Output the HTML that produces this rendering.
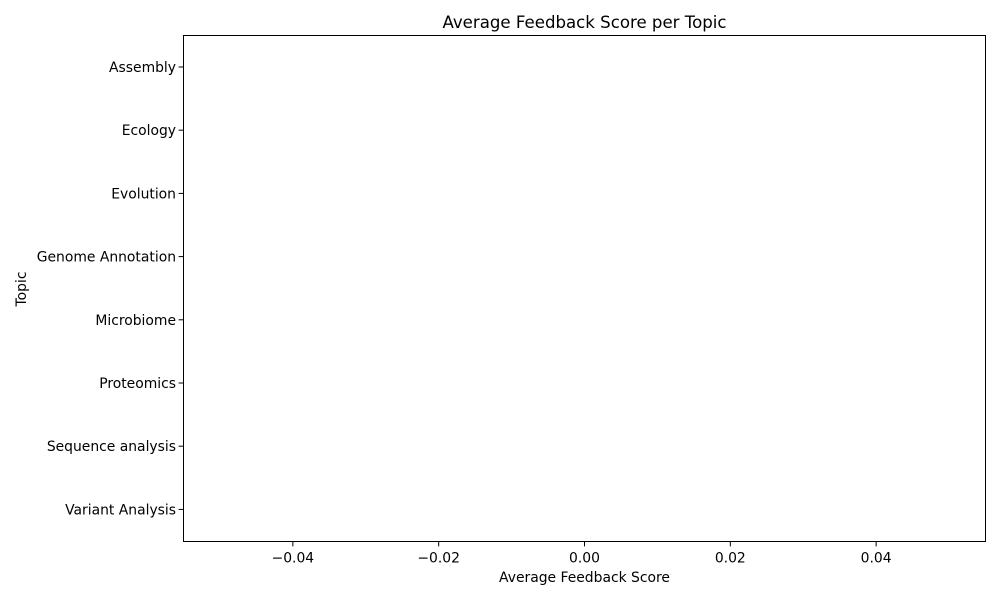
<!DOCTYPE html>
<html><head><meta charset="utf-8"><style>
html,body{margin:0;padding:0;background:#fff;}
svg{display:block;font-family:"DejaVu Sans","Liberation Sans",sans-serif;}
</style></head><body>
<svg id="chart" width="1000" height="600" viewBox="0 0 1000 600">
<text x="584.5" y="28" font-size="16.6" text-anchor="middle">Average Feedback Score per Topic</text>
<text x="584.5" y="582" font-size="13.9" text-anchor="middle">Average Feedback Score</text>
<text transform="translate(26,289) rotate(-90)" font-size="13.9" text-anchor="middle">Topic</text>
<g id="marks"></g>
<g id="xticks"></g>
<g id="yticks"></g>
<rect x="183.5" y="35.5" width="802" height="506" fill="none" stroke="#000" stroke-width="1"/>
</svg>
<script>
const categories = ["Assembly","Ecology","Evolution","Genome Annotation","Microbiome","Proteomics","Sequence analysis","Variant Analysis"];
const scores = [0,0,0,0,0,0,0,0];
const xTicks = [-0.04,-0.02,0,0.02,0.04];
const xTickLabels = ["\u22120.04","\u22120.02","0.00","0.02","0.04"];

const L=183.5,R=985.5,T=35.5,B=541.5;
const xMin=-0.055,xMax=0.055;
const x=v=>L+(v-xMin)/(xMax-xMin)*(R-L);
const y=i=>67+i*63.2;
const ns="http://www.w3.org/2000/svg";
const mk=(t,a)=>{const e=document.createElementNS(ns,t);for(const k in a)e.setAttribute(k,a[k]);return e;};

const marks=document.getElementById('marks');
categories.forEach((c,i)=>{
  const x0=x(Math.min(0,scores[i])),x1=x(Math.max(0,scores[i]));
  const r=mk('rect',{x:x0,y:y(i)-25,width:x1-x0,height:50,fill:'#1f77b4'});
  
  
  marks.appendChild(r);
});

const xt=document.getElementById('xticks');
xTicks.forEach((v,i)=>{
  const g=mk('g',{});
  
  
  g.appendChild(mk('line',{x1:x(v),x2:x(v),y1:B,y2:B+4.9,stroke:'#000'}));
  const t=mk('text',{x:x(v),y:B+21,'font-size':'13.9','text-anchor':'middle'});
  t.textContent=xTickLabels[i];
  g.appendChild(t);
  xt.appendChild(g);
});

const yt=document.getElementById('yticks');
categories.forEach((c,i)=>{
  const g=mk('g',{});
  
  
  g.appendChild(mk('line',{x1:L-4.9,x2:L,y1:y(i),y2:y(i),stroke:'#000'}));
  const t=mk('text',{x:L-7.5,y:y(i)+5,'font-size':'13.9','text-anchor':'end'});
  t.textContent=c;
  g.appendChild(t);
  yt.appendChild(g);
});
</script>
</body></html>
